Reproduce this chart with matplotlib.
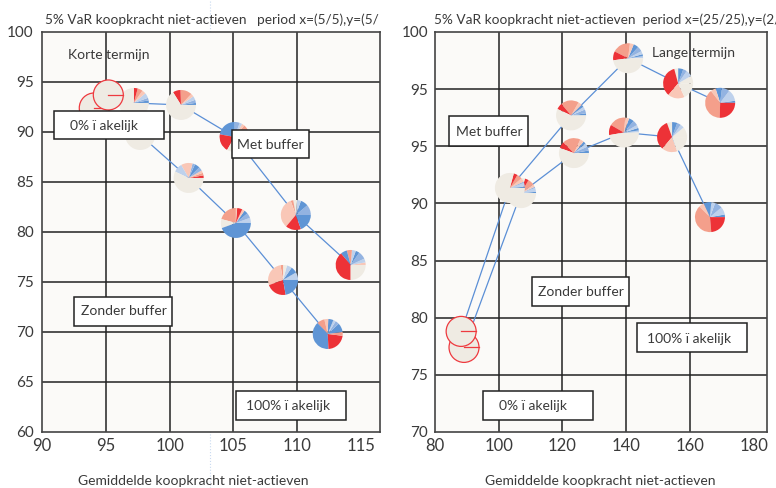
import matplotlib
matplotlib.use("Agg")
import matplotlib.pyplot as plt
from matplotlib.patches import Wedge, Circle, Rectangle
from matplotlib.lines import Line2D
from matplotlib.transforms import ScaledTranslation

plt.rcParams['font.family'] = ['Lato', 'DejaVu Sans']

# slice colours per category
COLORS = {"R": "#ed3237", "S": "#f49f8b", "P": "#f9c7b7", "E": "#efebe3",
          "L": "#bed1ec", "M": "#93b3e1", "B": "#5f95d5"}

# ---- left panel: korte termijn ----
left_met_x = [95.2, 97.2, 100.9, 105.1, 109.9, 114.2]
left_met_y = [93.7, 92.9, 92.7, 89.5, 81.7, 76.7]
left_zonder_x = [94.1, 97.7, 101.5, 105.2, 108.9, 112.4]
left_zonder_y = [92.4, 89.7, 85.4, 80.9, 75.2, 69.8]

# slices (category, degrees) counter-clockwise from east; None = open circle
left_met_pies = [
    None,
    [("B", 10), ("M", 10), ("L", 20), ("P", 15), ("S", 20), ("R", 15), ("E", 270)],
    [("B", 8), ("M", 12), ("L", 15), ("P", 12), ("S", 45), ("R", 30), ("E", 238)],
    [("E", 20), ("S", 30), ("P", 10), ("L", 10), ("M", 20), ("B", 80), ("R", 70), ("E", 120)],
    [("M", 40), ("B", 30), ("L", 15), ("E", 15), ("S", 10), ("P", 120), ("R", 60), ("B", 70)],
    [("P", 10), ("L", 15), ("M", 30), ("B", 15), ("L", 15), ("S", 20), ("B", 25), ("R", 140), ("E", 90)],
]
left_zonder_pies = [
    None,
    [("R", 10), ("S", 15), ("P", 10), ("L", 10), ("M", 5), ("B", 5), ("E", 305)],
    [("R", 10), ("S", 10), ("P", 10), ("M", 15), ("B", 20), ("M", 10), ("P", 45), ("L", 35), ("E", 205)],
    [("L", 20), ("M", 20), ("B", 15), ("P", 10), ("R", 20), ("P", 5), ("S", 75), ("E", 35), ("B", 160)],
    [("L", 30), ("B", 25), ("L", 20), ("E", 15), ("S", 10), ("P", 100), ("R", 80), ("B", 80)],
    [("S", 8), ("B", 35), ("M", 15), ("L", 10), ("B", 20), ("P", 15), ("S", 30), ("B", 140), ("R", 80), ("S", 7)],
]

# ---- right panel: lange termijn ----
right_met_x = [88.2, 103.5, 122.7, 140.6, 156.3, 169.5]
right_met_y = [78.8, 91.35, 97.7, 102.7, 100.5, 98.8]
right_zonder_x = [89.1, 107.0, 123.6, 139.3, 154.4, 166.3]
right_zonder_y = [77.4, 90.9, 94.4, 96.2, 95.8, 88.8]

right_met_pies = [
    None,
    [("B", 5), ("L", 15), ("M", 5), ("P", 15), ("S", 20), ("R", 15), ("E", 285)],
    [("B", 8), ("M", 15), ("L", 12), ("B", 10), ("P", 15), ("S", 70), ("R", 25), ("E", 205)],
    [("L", 8), ("B", 8), ("L", 12), ("M", 20), ("B", 20), ("P", 15), ("S", 70), ("R", 35), ("E", 172)],
    [("E", 30), ("L", 25), ("M", 15), ("B", 20), ("E", 15), ("R", 125), ("P", 65), ("E", 65)],
    [("B", 8), ("L", 45), ("M", 30), ("B", 25), ("P", 20), ("S", 140), ("R", 92)],
]
right_zonder_pies = [
    None,
    [("B", 5), ("L", 15), ("M", 5), ("P", 10), ("S", 25), ("R", 15), ("E", 285)],
    [("B", 10), ("M", 15), ("L", 15), ("B", 10), ("P", 15), ("S", 70), ("R", 25), ("E", 200)],
    [("L", 8), ("B", 10), ("L", 12), ("M", 20), ("B", 20), ("P", 15), ("S", 65), ("R", 40), ("E", 170)],
    [("E", 40), ("L", 15), ("M", 15), ("B", 20), ("E", 20), ("R", 120), ("P", 60), ("E", 70)],
    [("B", 10), ("L", 30), ("M", 30), ("L", 15), ("B", 30), ("P", 20), ("S", 140), ("R", 85)],
]

left_xticks = [90, 95, 100, 105, 110, 115]
left_yticks = [60, 65, 70, 75, 80, 85, 90, 95, 100]
right_xticks = [80, 100, 120, 140, 160, 180]
right_yticks = [70, 75, 80, 85, 90, 95, 100, 105]
right_ylabels = ["70", "75", "80", "85", "90", "95", "95", "100"]

left_title = "5% VaR koopkracht niet-actieven   period x=(5/5),y=(5/"
right_title = "5% VaR koopkracht niet-actieven  period x=(25/25),y=(2/"
xlabel = "Gemiddelde koopkracht niet-actieven"

TXT = "#3a3a3a"
LINE = "#5b8fd6"
R_IN = 0.15  # pie radius in inches


def draw_pie(fig, ax, x, y, slices, z):
    trans = fig.dpi_scale_trans + ScaledTranslation(x, y, ax.transData)
    if slices is None:
        ax.add_patch(Circle((0, 0), R_IN, facecolor=COLORS["E"], edgecolor="#ee3a3f",
                            lw=0.9, transform=trans, zorder=z + 1))
        ax.add_line(Line2D([0, R_IN], [0, 0], color="#ee3a3f", lw=0.9,
                           transform=trans, zorder=z + 1))
        return
    start = 0
    for cat, deg in slices:
        ax.add_patch(Wedge((0, 0), R_IN, start, start + deg, facecolor=COLORS[cat],
                           lw=0, transform=trans, zorder=z))
        start += deg


def add_box(ax, text, box, tx, ty, boxed=True, size=10):
    if boxed:
        ax.add_patch(Rectangle((box[0], box[1]), box[2] - box[0], box[3] - box[1],
                               transform=ax.transAxes, facecolor="white",
                               edgecolor="#222222", lw=1.1, zorder=6, clip_on=False))
    ax.text(tx, ty, text, transform=ax.transAxes, ha="left", va="center",
            fontsize=size, color=TXT, zorder=7)


fig = plt.figure(figsize=(7.76, 4.88), dpi=100)
# faint guide line in the page
fig.add_artist(Line2D([0.271, 0.271], [0, 1], color="#c9daf0", lw=0.8, ls=":",
                      transform=fig.transFigure, zorder=0))

ax1 = fig.add_axes([0.0541, 0.1148, 0.4356, 0.8197])
ax2 = fig.add_axes([0.5606, 0.1148, 0.4278, 0.8197])

panels = [
    (ax1, left_met_x, left_met_y, left_met_pies, left_zonder_x, left_zonder_y, left_zonder_pies),
    (ax2, right_met_x, right_met_y, right_met_pies, right_zonder_x, right_zonder_y, right_zonder_pies),
]

for ax, mx, my, mp, zx, zy, zp in panels:
    ax.set_facecolor("#fbfaf8")
    ax.plot(mx, my, color=LINE, lw=0.9, zorder=2)
    ax.plot(zx, zy, color=LINE, lw=0.9, zorder=2)
    for x, y, s in zip(zx, zy, zp):
        draw_pie(fig, ax, x, y, s, 3)
    for x, y, s in zip(mx, my, mp):
        draw_pie(fig, ax, x, y, s, 4)
    for sp in ax.spines.values():
        sp.set_color("#444444")
        sp.set_linewidth(1.2)
    ax.tick_params(length=0, colors=TXT)

# left axes
ax1.set_xlim(90, 116.5)
ax1.set_ylim(60, 100)
for v in left_xticks[1:-1]:
    ax1.axvline(v, color="#222222", lw=1.1, zorder=1)
for v in left_yticks[1:-1]:
    ax1.axhline(v, color="#222222", lw=1.1, zorder=1)
ax1.set_xticks(left_xticks)
ax1.set_xticklabels([str(t) for t in left_xticks], fontsize=12)
ax1.set_yticks(left_yticks)
ax1.set_yticklabels([str(t) for t in left_yticks], fontsize=11)
ax1.tick_params(axis="x", pad=4)
ax1.tick_params(axis="y", pad=6)

# right axes
ax2.set_xlim(80, 184.2)
ax2.set_ylim(70, 105)
for v in right_xticks[1:-1]:
    ax2.axvline(v, color="#222222", lw=1.1, zorder=1)
for v in right_yticks[1:-1]:
    ax2.axhline(v, color="#222222", lw=1.1, zorder=1)
ax2.set_xticks(right_xticks)
ax2.set_xticklabels([str(t) for t in right_xticks], fontsize=12)
ax2.set_yticks(right_yticks)
ax2.set_yticklabels(right_ylabels, fontsize=11)
ax2.tick_params(axis="x", pad=4)
ax2.tick_params(axis="y", pad=5)

# labels and boxes
add_box(ax1, "Korte termijn", None, 0.077, 0.9425, boxed=False, size=10)
add_box(ax1, "0% ï akelijk", (0.0355, 0.7325, 0.361, 0.8025), 0.083, 0.765)
add_box(ax1, "Met buffer", (0.562, 0.685, 0.790, 0.755), 0.577, 0.7175)
add_box(ax1, "Zonder buffer", (0.0947, 0.265, 0.3846, 0.3375), 0.1154, 0.3025)
add_box(ax1, "100% ï akelijk", (0.574, 0.03, 0.899, 0.1025), 0.6036, 0.065)

add_box(ax2, "Lange termijn", None, 0.6536, 0.9475, boxed=False, size=10)
add_box(ax2, "Met buffer", (0.0422, 0.715, 0.280, 0.79), 0.0633, 0.75)
add_box(ax2, "Zonder buffer", (0.292, 0.315, 0.584, 0.3875), 0.310, 0.35)
add_box(ax2, "100% ï akelijk", (0.608, 0.20, 0.940, 0.2725), 0.6386, 0.2325)
add_box(ax2, "0% ï akelijk", (0.1446, 0.03, 0.476, 0.1025), 0.1928, 0.065)

fig.text(45 / 776, 1 - 20 / 488, left_title, fontsize=9.8, color=TXT, va="center")
fig.text(434 / 776, 1 - 20 / 488, right_title, fontsize=9.8, color=TXT, va="center")
fig.text(193 / 776, 1 - 481 / 488, xlabel, fontsize=10, color=TXT, ha="center", va="center")
fig.text(600 / 776, 1 - 481 / 488, xlabel, fontsize=10, color=TXT, ha="center", va="center")

fig.savefig("out.png", dpi=100, facecolor="white")
